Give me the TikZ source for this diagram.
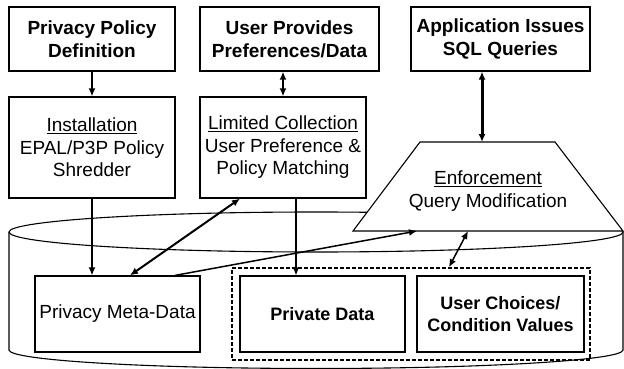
\documentclass[tikz,border=0pt]{standalone}
\usepackage{fontspec}
\setmainfont{Liberation Sans}
\usetikzlibrary{arrows.meta,positioning}

\begin{document}
\begin{tikzpicture}[
  x=1pt, y=-1pt,
  box/.style={rectangle, draw=black, line width=1.2pt, fill=white,
              align=center, inner sep=2pt,
              font=\fontsize{19}{22.5}\selectfont},
  topbox/.style={box, minimum height=64pt,
              font=\fontsize{19}{23}\selectfont\bfseries},
  stepbox/.style={box, minimum height=101pt},
  databox/.style={box, minimum height=76pt},
  arr/.style={-{Latex[length=8pt,width=7pt]}, line width=1.5pt},
  darr/.style={{Latex[length=8pt,width=7pt]}-{Latex[length=8pt,width=7pt]},
              line width=1.5pt}
]
\useasboundingbox (0,0) rectangle (624,369);

% database cylinder
\draw[line width=1.1pt] (316,232) ellipse [x radius=307, y radius=20];
\draw[line width=1.1pt] (9,232) -- (9,350)
  arc [start angle=180, end angle=0, x radius=307, y radius=18.5] -- (623,232);

% enforcement trapezoid
\draw[line width=1.1pt, fill=white] (353,231) -- (420,142) -- (555,142) -- (623,231) -- cycle;
\node[align=center, font=\fontsize{19}{22.5}\selectfont] (enf) at (488,191)
  {\underline{Enforcement}\\Query Modification};
\coordinate (enfapp)  at (482,142);
\coordinate (enfmeta) at (417,231);
\coordinate (enfuc)   at (468,231);

\node[topbox, minimum width=166pt] (ppd) at (92,39)    {Privacy Policy\\Definition};
\node[topbox, minimum width=179pt] (upd) at (289.5,39) {User Provides\\Preferences/Data};
\node[topbox, minimum width=179pt] (app) at (500.5,39) {Application Issues\\SQL Queries};
\node[stepbox, minimum width=166pt] (inst) at (92,147.5)
  {\underline{Installation}\\EPAL/P3P Policy\\Shredder};
\node[stepbox, minimum width=166pt] (lim) at (283,147.5)
  {\underline{Limited Collection}\\User Preference \&\\Policy Matching};

\node[draw, dashed, line width=1.6pt, dash pattern=on 4pt off 2pt,
      minimum width=358pt, minimum height=92pt] (store) at (411,314) {};
\node[databox, minimum width=165pt] (meta) at (117.5,314) {Privacy Meta-Data};
\node[databox, minimum width=165pt, font=\fontsize{18}{22}\selectfont\bfseries]
  (priv) at (322.5,314) {Private Data};
\node[databox, minimum width=167pt, font=\fontsize{18}{22}\selectfont\bfseries]
  (choice) at (500.5,314) {User Choices/\\Condition Values};

\draw[arr, line width=2.5pt] (ppd) -- (inst);
\draw[darr, line width=2.5pt] (upd.south -| 283,0) -- (lim);
\draw[darr, line width=3pt] (app.south -| enfapp) -- (enfapp);
\draw[arr] (inst) -- (meta.north -| inst);
\draw[darr, line width=2pt] (meta.north -| 130,0) -- (lim.south -| 240,0);
\draw[arr] (meta.north -| 175,0) -- (enfmeta);
\draw[arr] (lim.south -| 296,0) -- (priv.north -| 296,0);
\draw[darr] (enfuc) -- (store.north -| 449,0);
\end{tikzpicture}
\end{document}
